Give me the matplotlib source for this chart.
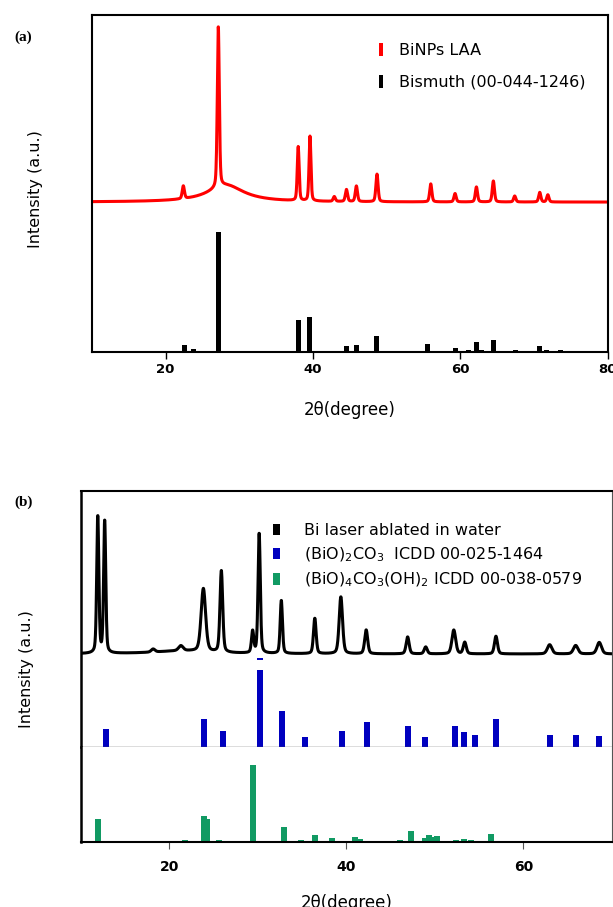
import numpy as np
import matplotlib.pyplot as plt
from matplotlib.patches import Patch

plt.rcParams['font.family'] = ['DejaVu Sans']

# ---- (a) BiNPs LAA ----
a_peak_pos = [22.4, 27.15, 38.0, 39.6, 42.9, 44.55, 45.9, 48.7, 56.0, 59.3, 62.2, 64.5, 67.4, 70.8, 71.9]
a_peak_int = [10.6, 134, 45, 54, 4, 10, 13, 23, 15, 7, 12.5, 17.5, 5, 8, 6]
a_peak_fwhm = [0.35, 0.32, 0.3, 0.3, 0.35, 0.35, 0.35, 0.35, 0.35, 0.35, 0.35, 0.35, 0.35, 0.35, 0.35]
a_hump = (28.2, 14, 6.0)
a_offset = 125

# Bismuth card 00-044-1246
bi_pos = [22.5, 23.8, 27.18, 37.98, 39.6, 44.58, 45.9, 48.66, 55.6, 59.33, 61.1, 62.15, 62.87, 64.5, 67.47, 70.78, 71.69, 73.68]
bi_int = [6, 2.5, 100, 27, 29, 5, 6, 13, 7, 3, 2, 8, 2, 10, 2, 5, 2, 2]

# ---- (b) Bi laser ablated in water ----
b_peak_pos = [11.95, 12.73, 18.2, 21.33, 23.87, 25.9, 29.43, 30.17, 32.67, 36.45, 39.39, 42.25,
              46.93, 48.97, 52.14, 53.38, 56.9, 62.96, 65.9, 68.56]
b_peak_int = [178, 172, 4, 6.5, 82, 106, 28, 156, 69, 46, 74, 31, 22, 9, 31, 15, 23, 12, 11, 15]
b_peak_fwhm = [0.28, 0.28, 0.5, 0.6, 0.6, 0.36, 0.3, 0.3, 0.3, 0.35, 0.45, 0.4,
               0.4, 0.4, 0.5, 0.4, 0.4, 0.6, 0.6, 0.6]
b_hump = (21.5, 4, 8.0)
b_offset = 120.5

# (BiO)2CO3 ICDD 00-025-1464
bc_pos = [12.85, 23.95, 26.06, 30.25, 32.74, 35.33, 39.55, 42.32, 46.97, 48.89, 52.24, 53.26,
          54.51, 56.9, 62.99, 65.92, 68.5]
bc_int = [22.5, 36, 21, 100, 47, 13, 20, 32, 26.5, 13, 26.5, 18.5, 15.7, 36, 15.7, 15.7, 14.4]
bc_cut_top = 112.7   # clipped tip of the 30.25 line, drawn above the main bar

# (BiO)4CO3(OH)2 ICDD 00-038-0579
bh_pos = [11.95, 17.16, 21.81, 23.92, 24.34, 25.63, 29.46, 30.37, 32.99, 34.43, 34.9, 36.45,
          38.41, 40.98, 41.57, 44.7, 46.07, 47.29, 48.48, 48.88, 49.34, 49.74, 50.24, 52.39,
          53.26, 54.05, 56.35]
bh_int = [29.8, 1.3, 2.7, 33.8, 29.8, 2.7, 100, 1.3, 18.9, 1.3, 2.7, 9.5, 5.5, 6.8, 4, 1.3,
          2.7, 14.8, 1.3, 5.5, 9.5, 6.8, 8, 2.7, 4, 2.7, 10.8]


def pattern(tt, pos, inten, fwhm, eta=0.35):
    y = np.zeros_like(tt)
    for p, h, w in zip(pos, inten, fwhm):
        u = (tt - p) / (w / 2)
        y += h * (eta / (1 + u ** 2) + (1 - eta) * np.exp(-np.log(2) * u ** 2))
    return y


def hump(tt, c, h, w):
    return h / (1 + ((tt - c) / (w / 2)) ** 2)


fig = plt.figure(figsize=(6.13, 9.07), dpi=100)
W, H = 613, 907


def px_axes(left, top, right, bottom):
    return fig.add_axes([left / W, 1 - bottom / H, (right - left) / W, (bottom - top) / H])


# ---------- panel (a) ----------
ax = px_axes(92, 15, 607.5, 352)
tt = np.arange(10, 80.001, 0.02)
ya = a_offset + hump(tt, *a_hump) + pattern(tt, a_peak_pos, a_peak_int, a_peak_fwhm)
ax.plot(tt, ya, color='red', lw=2.2)
ax.bar(bi_pos, bi_int, width=0.68, color='black')
ax.set_xlim(10, 80)
ax.set_ylim(0, 281)
ax.set_yticks([])
ax.set_xticks([20, 40, 60, 80])
ax.tick_params(axis='x', direction='out', length=5, width=1, pad=3)
for lab in ax.get_xticklabels():
    lab.set_fontweight('bold')
    lab.set_fontsize(9.5)
for s in ax.spines.values():
    s.set_linewidth(1.5)
ax.set_xlabel('2θ(degree)', fontsize=12, labelpad=18)
ax.set_ylabel('Intensity (a.u.)', fontsize=11.5)
ax.yaxis.set_label_coords(-0.095, 0.484)
ax.legend(handles=[Patch(facecolor='red', edgecolor='none', label='BiNPs LAA'),
                   Patch(facecolor='black', edgecolor='none', label='Bismuth (00-044-1246)')],
          loc='upper left', bbox_to_anchor=(0.557, 0.918), frameon=False, fontsize=11.5,
          handlelength=0.25, handleheight=0.9, handletextpad=1.0, labelspacing=1.05,
          borderpad=0, borderaxespad=0)

# ---------- panel (b) ----------
axu = px_axes(80.5, 490.5, 612, 746.7)
axl = px_axes(80.5, 746.7, 612, 842)
tb = np.arange(10, 70.001, 0.02)
yb = b_offset + hump(tb, *b_hump) + pattern(tb, b_peak_pos, b_peak_int, b_peak_fwhm)
axu.plot(tb, yb, color='black', lw=2.2)
axu.bar(bc_pos, bc_int, width=0.65, color='#0000bf')
axu.bar([bc_pos[3]], [2.2], bottom=[bc_cut_top], width=0.65, color='#0000bf')
axl.bar(bh_pos, bh_int, width=0.65, color='#119a63')

for a_ in (axu, axl):
    a_.set_xlim(10, 70)
    a_.set_yticks([])
axu.set_ylim(0, 333)
axl.set_ylim(0, 124)
axu.set_xticks([])
axu.spines['top'].set_linewidth(1.5)
axu.spines['left'].set_linewidth(1.8)
axu.spines['bottom'].set_linewidth(1.0)
axu.spines['bottom'].set_color('#555555')
axu.spines['right'].set_linewidth(0.8)
axu.spines['right'].set_color('#555555')
axl.spines['top'].set_visible(False)
axl.spines['left'].set_linewidth(1.8)
axl.spines['bottom'].set_linewidth(1.5)
axl.spines['right'].set_linewidth(0.8)
axl.spines['right'].set_color('#555555')
axl.set_xticks([20, 40, 60])
axl.tick_params(axis='x', direction='out', length=5, width=0.8, color='#555555', pad=8)
for lab in axl.get_xticklabels():
    lab.set_fontweight('bold')
    lab.set_fontsize(10)
axl.set_xlabel('2θ(degree)', fontsize=12, labelpad=14)
axu.set_ylabel('Intensity (a.u.)', fontsize=11.5)
axu.yaxis.set_label_coords(-0.088, 0.303)
axu.legend(handles=[Patch(facecolor='black', edgecolor='none', label='Bi laser ablated in water'),
                    Patch(facecolor='#0000bf', edgecolor='none',
                          label='(BiO)$_2$CO$_3$  ICDD 00-025-1464'),
                    Patch(facecolor='#119a63', edgecolor='none',
                          label='(BiO)$_4$CO$_3$(OH)$_2$ ICDD 00-038-0579')],
           loc='upper left', bbox_to_anchor=(0.362, 0.873), frameon=False, fontsize=11.5,
           handlelength=0.42, handleheight=0.75, handletextpad=1.55, labelspacing=0.45,
           borderpad=0, borderaxespad=0)

fig.text(23 / W, 1 - 37 / H, '(a)', family='Liberation Serif', fontweight='bold', fontsize=11,
         ha='center', va='center')
fig.text(24 / W, 1 - 502 / H, '(b)', family='Liberation Serif', fontweight='bold', fontsize=11,
         ha='center', va='center')

fig.savefig('out.png', dpi=100)
